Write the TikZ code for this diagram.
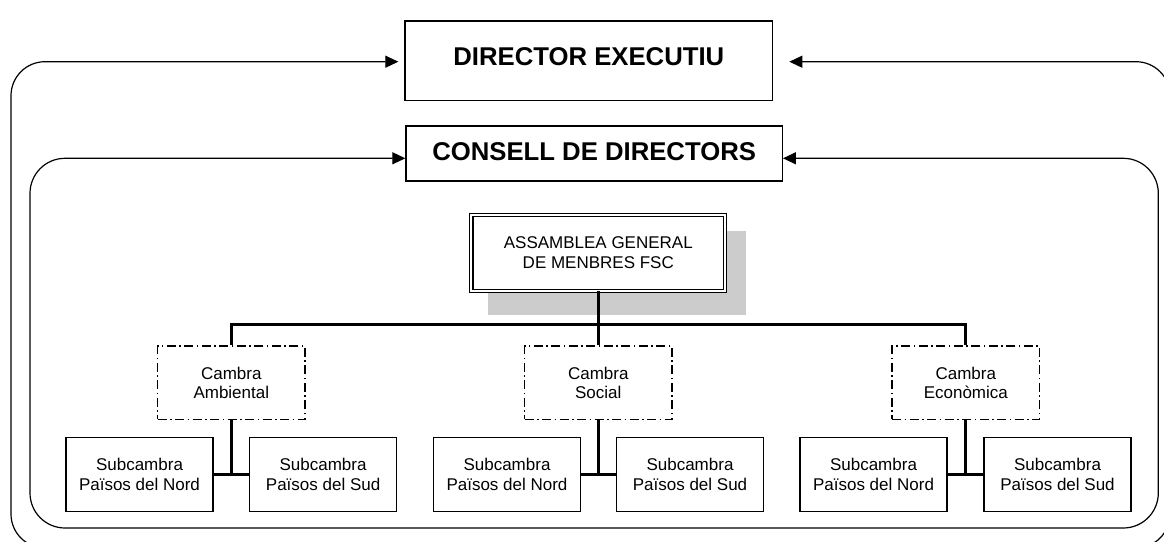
\documentclass[tikz,border=0pt]{standalone}
\usepackage{fontspec}
\setmainfont{Liberation Sans}
\usetikzlibrary{arrows.meta,calc}
\definecolor{shadowgray}{RGB}{204,204,204}
\begin{document}
\begin{tikzpicture}[x=1pt,y=-1pt,
  box/.style={draw,line width=1.3pt,inner sep=0pt,align=center,font=\fontsize{17}{19.5}\selectfont},
  topbox/.style={draw,line width=1.3pt,inner sep=0pt,font=\fontsize{25.7}{30}\selectfont\bfseries},
  subbox/.style={box,minimum width=147pt,minimum height=74.4pt},
  chamber/.style={box,dash pattern=on 9pt off 3.5pt on 1.5pt off 3.5pt,minimum width=147.5pt,minimum height=73.3pt},
  frame/.style={line width=1.2pt,rounded corners=#1},
  twotips/.style={{Triangle[length=13pt,width=12pt]}-{Triangle[length=13pt,width=12pt]}},
  link/.style={line width=3pt}
]
\useasboundingbox (0,0) rectangle (1164,541);
\clip (0,0) rectangle (1164,541);

% top boxes
\node[topbox,minimum width=367.7pt,minimum height=79.7pt,text depth=8pt] (dir) at (588.85,60.85) {DIRECTOR EXECUTIU};
\node[topbox,minimum width=376.3pt,minimum height=55pt,text depth=4.6pt] (cons) at (594.15,153.5) {CONSELL DE DIRECTORS};

% loop connectors
\coordinate (dl) at ($(dir.west)+(-6,0.85)$);
\coordinate (dr) at ($(dir.east)+(16,0.85)$);
\coordinate (cl) at ($(cons.west)+(0,4.8)$);
\coordinate (cr) at ($(cons.east)+(0,4.8)$);
\draw[frame=34pt,twotips] (dl) -- (11,61.7) -- (11,548) -- (1170,548) -- (1170,61.7) -- (dr);
\draw[frame=35pt,twotips] (cl) -- (30,158.3) -- (30,528) -- (1158.3,528) -- (1158.3,158.3) -- (cr);

% general assembly
\fill[shadowgray] (488,231) rectangle (746,315);
\node[box,fill=white,double,double distance=2pt,line width=1.1pt,minimum width=253.8pt,minimum height=75.8pt] (ag) at (598.3,252.7) {ASSAMBLEA GENERAL\\DE MENBRES FSC};

% chambers
\node[chamber] (ca) at (231.3,382.7) {Cambra\\Ambiental};
\node[chamber] (cs) at (598.3,382.7) {Cambra\\Social};
\node[chamber] (ce) at (965.8,382.7) {Cambra\\Econòmica};

% sub-chambers
\node[subbox] (n1) at (139.5,474.5) {Subcambra\\Països del Nord};
\node[subbox] (s1) at (323.1,474.5) {Subcambra\\Països del Sud};
\node[subbox] (n2) at (507,474.5) {Subcambra\\Països del Nord};
\node[subbox] (s2) at (690,474.5) {Subcambra\\Països del Sud};
\node[subbox] (n3) at (873.5,474.5) {Subcambra\\Països del Nord};
\node[subbox] (s3) at (1057.5,474.5) {Subcambra\\Països del Sud};

% tree links
\coordinate (bar) at (598.3,324);
\draw[link] (ag.south) -- (bar);
\draw[link] (ca.north) -- (ca.north |- bar) -- (ce.north |- bar) -- (ce.north);
\draw[link] (cs.north) -- (cs.north |- bar);

\draw[link] (ca.south) -- (ca.south |- n1.east);
\draw[link] (n1.east) -- (s1.west);
\draw[link] (cs.south) -- (cs.south |- n2.east);
\draw[link] (n2.east) -- (s2.west);
\draw[link] (ce.south) -- (ce.south |- n3.east);
\draw[link] (n3.east) -- (s3.west);
\end{tikzpicture}
\end{document}
